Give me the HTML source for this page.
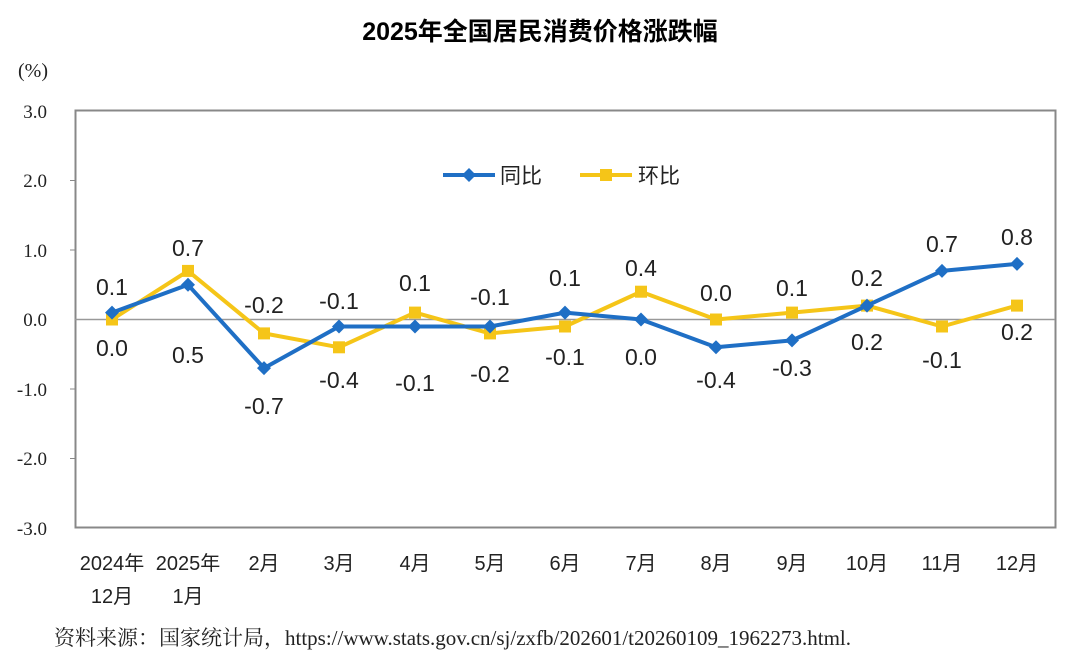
<!DOCTYPE html>
<html><head><meta charset="utf-8"><style>
body{margin:0;background:#fff;}
svg{display:block;}
</style></head><body>
<svg width="1080" height="670" xmlns="http://www.w3.org/2000/svg">
<text x="540" y="40" text-anchor="middle" font-family="Liberation Sans, Noto Sans CJK SC, sans-serif" font-size="25" font-weight="bold" fill="#000">2025年全国居民消费价格涨跌幅</text>
<text x="18" y="77" font-family="Liberation Serif, serif" font-size="20" fill="#222">(%)</text>
<rect x="75.5" y="110.5" width="980" height="417" fill="none" stroke="#888" stroke-width="2"/>
<line x1="75" y1="319.5" x2="1055" y2="319.5" stroke="#999" stroke-width="1.5"/>
<g font-family="Liberation Serif, serif" font-size="19" fill="#222" text-anchor="end">
<text x="47" y="118">3.0</text><text x="47" y="187">2.0</text><text x="47" y="257">1.0</text><text x="47" y="326">0.0</text><text x="47" y="396">-1.0</text><text x="47" y="465">-2.0</text><text x="47" y="535">-3.0</text>
</g>
<g stroke="#888" stroke-width="1"><line x1="70" y1="180.5" x2="75" y2="180.5"/><line x1="70" y1="250" x2="75" y2="250"/><line x1="70" y1="389" x2="75" y2="389"/><line x1="70" y1="458.5" x2="75" y2="458.5"/></g>
<line x1="443" y1="175" x2="495" y2="175" stroke="#1f6fc5" stroke-width="4"/>
<polygon points="469,168 476,175 469,182 462,175" fill="#1f6fc5"/>
<text x="500" y="183" font-family="Noto Sans CJK SC, sans-serif" font-size="21" fill="#222">同比</text>
<line x1="580" y1="175" x2="632" y2="175" stroke="#f5c518" stroke-width="4"/>
<rect x="600" y="169" width="12" height="12" fill="#f5c518"/>
<text x="638" y="183" font-family="Noto Sans CJK SC, sans-serif" font-size="21" fill="#222">环比</text>
<polyline fill="none" stroke="#f5c518" stroke-width="4" stroke-linejoin="round" points="112,319.5 188,270.9 264,333.4 339,347.3 415,312.6 490,333.4 565,326.5 641,291.7 716,319.5 792,312.6 867,305.6 942,326.5 1017,305.6"/>
<g fill="#f5c518">
<rect x="106" y="313.5" width="12" height="12"/><rect x="182" y="264.9" width="12" height="12"/><rect x="258" y="327.4" width="12" height="12"/><rect x="333" y="341.3" width="12" height="12"/><rect x="409" y="306.6" width="12" height="12"/><rect x="484" y="327.4" width="12" height="12"/><rect x="559" y="320.5" width="12" height="12"/><rect x="635" y="285.7" width="12" height="12"/><rect x="710" y="313.5" width="12" height="12"/><rect x="786" y="306.6" width="12" height="12"/><rect x="861" y="299.6" width="12" height="12"/><rect x="936" y="320.5" width="12" height="12"/><rect x="1011" y="299.6" width="12" height="12"/>
</g>
<polyline fill="none" stroke="#1f6fc5" stroke-width="4" stroke-linejoin="round" points="112,312.6 188,284.8 264,368.1 339,326.5 415,326.5 490,326.5 565,312.6 641,319.5 716,347.3 792,340.4 867,305.6 942,270.9 1017,263.9"/>
<g fill="#1f6fc5">
<polygon points="112,305.6 119,312.6 112,319.6 105,312.6"/><polygon points="188,277.8 195,284.8 188,291.8 181,284.8"/><polygon points="264,361.1 271,368.1 264,375.1 257,368.1"/><polygon points="339,319.5 346,326.5 339,333.5 332,326.5"/><polygon points="415,319.5 422,326.5 415,333.5 408,326.5"/><polygon points="490,319.5 497,326.5 490,333.5 483,326.5"/><polygon points="565,305.6 572,312.6 565,319.6 558,312.6"/><polygon points="641,312.5 648,319.5 641,326.5 634,319.5"/><polygon points="716,340.3 723,347.3 716,354.3 709,347.3"/><polygon points="792,333.4 799,340.4 792,347.4 785,340.4"/><polygon points="867,298.6 874,305.6 867,312.6 860,305.6"/><polygon points="942,263.9 949,270.9 942,277.9 935,270.9"/><polygon points="1017,256.9 1024,263.9 1017,270.9 1010,263.9"/>
</g>
<g font-family="Liberation Sans, sans-serif" font-size="23" fill="#222" text-anchor="middle">
<text x="112" y="295">0.1</text><text x="112" y="356">0.0</text>
<text x="188" y="256">0.7</text><text x="188" y="363">0.5</text>
<text x="264" y="313">-0.2</text><text x="264" y="414">-0.7</text>
<text x="339" y="309">-0.1</text><text x="339" y="388">-0.4</text>
<text x="415" y="291">0.1</text><text x="415" y="391">-0.1</text>
<text x="490" y="305">-0.1</text><text x="490" y="382">-0.2</text>
<text x="565" y="286">0.1</text><text x="565" y="365">-0.1</text>
<text x="641" y="276">0.4</text><text x="641" y="365">0.0</text>
<text x="716" y="301">0.0</text><text x="716" y="388">-0.4</text>
<text x="792" y="296">0.1</text><text x="792" y="376">-0.3</text>
<text x="867" y="286">0.2</text><text x="867" y="350">0.2</text>
<text x="942" y="252">0.7</text><text x="942" y="368">-0.1</text>
<text x="1017" y="245">0.8</text><text x="1017" y="340">0.2</text>
</g>
<g font-family="Liberation Sans, Noto Sans CJK SC, sans-serif" font-size="20" fill="#222" text-anchor="middle">
<text x="112" y="570">2024年</text><text x="112" y="603">12月</text>
<text x="188" y="570">2025年</text><text x="188" y="603">1月</text>
<text x="264" y="570">2月</text><text x="339" y="570">3月</text><text x="415" y="570">4月</text><text x="490" y="570">5月</text><text x="565" y="570">6月</text><text x="641" y="570">7月</text><text x="716" y="570">8月</text><text x="792" y="570">9月</text><text x="867" y="570">10月</text><text x="942" y="570">11月</text><text x="1017" y="570">12月</text>
</g>
<text x="54" y="645" font-family="Liberation Serif, Noto Serif CJK SC, serif" font-size="21" fill="#222">资料来源：国家统计局，https://www.stats.gov.cn/sj/zxfb/202601/t20260109_1962273.html.</text>
</svg>
</body></html>
